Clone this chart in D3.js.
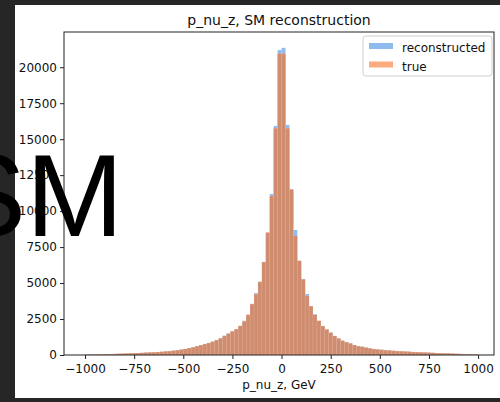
<!DOCTYPE html>
<html>
<head>
<meta charset="utf-8">
<script src="https://cdn.jsdelivr.net/npm/d3@7"></script>
<style>
  body { margin: 0; background: #262626; overflow: hidden; }
  svg text { font-family: "DejaVu Sans", sans-serif; }
</style>
</head>
<body>
<div id="chart"></div>
<script>
// histogram bins: 100 bins of 20 GeV from -1000 to 1000
const binWidth = 20;
const binStart = d3.range(-1000, 1000, binWidth);

const trueCounts = [
  22, 28, 35, 42, 50, 58, 66, 75, 84, 94,
  104, 115, 126, 138, 150, 163, 177, 192, 208, 225,
  245, 268, 295, 330, 370, 420, 475, 535, 610, 690,
  765, 840, 920, 1040, 1160, 1320, 1490, 1640, 1800, 2020,
  2330, 2820, 3540, 4230, 5100, 6450, 8520, 11050, 15760, 20960,
  20950, 15760, 11500, 8280, 6560, 5260, 4110, 3400, 2790, 2380,
  2010, 1780, 1550, 1330, 1160, 1000, 905, 810, 700, 625,
  575, 515, 465, 420, 385, 360, 335, 312, 292, 275,
  258, 242, 228, 214, 200, 188, 176, 164, 152, 141,
  130, 119, 108, 97, 86, 75, 64, 53, 42, 32
];

const recoCounts = [
  20, 27, 36, 40, 49, 60, 65, 73, 85, 92,
  102, 117, 124, 140, 148, 165, 175, 190, 210, 222,
  248, 265, 298, 327, 372, 418, 478, 530, 612, 686,
  768, 836, 925, 1036, 1165, 1350, 1485, 1645, 1795, 2030,
  2380, 2780, 3560, 4300, 5080, 6470, 8500, 11190, 15920, 21200,
  21350, 15990, 11520, 8690, 6540, 5280, 4240, 3390, 2830, 2370,
  2020, 1770, 1560, 1320, 1150, 990, 890, 800, 695, 615,
  570, 510, 460, 418, 380, 362, 330, 310, 290, 272,
  255, 240, 230, 210, 198, 190, 172, 160, 150, 138,
  128, 116, 110, 95, 84, 74, 62, 52, 40, 30
];

const xTicks = [-1000, -750, -500, -250, 0, 250, 500, 750, 1000];
const yTicks = [0, 2500, 5000, 7500, 10000, 12500, 15000, 17500, 20000];
const seriesNames = ["reconstructed", "true"];

const W = 500, H = 402;
const plot = { left: 64, right: 494, top: 32, bottom: 355 };
const colors = { reco: "#8fbcef", tru: "#fbab7f", both: "#d08c6f" };

const svg = d3.select("#chart")
              .append("svg")
              .attr("width", W)
              .attr("height", H);

// dark backdrop + white figure
svg.append("rect").attr("width", W).attr("height", H).attr("fill", "#262626");
svg.append("rect")
   .attr("x", 15).attr("y", 5)
   .attr("width", W - 15).attr("height", 393)
   .attr("fill", "#ffffff");

const x = d3.scaleLinear()
            .domain([-1107, 1081])
            .range([plot.left, plot.right]);

const y = d3.scaleLinear()
            .domain([0, 22450])
            .range([plot.bottom, plot.top]);

const bins = binStart.map((s, i) => ({
    x0: s, x1: s + binWidth, reco: recoCounts[i], tru: trueCounts[i]
}));

const barLayer = (cls, val, fill, stroke) => {
    svg.append("g")
       .selectAll("rect." + cls)
       .data(bins)
       .join("rect")
       .attr("class", cls)
       .attr("x", d => x(d.x0))
       .attr("width", d => x(d.x1) - x(d.x0))
       .attr("y", d => y(val(d)))
       .attr("height", d => y(0) - y(val(d)))
       .attr("fill", fill)
       .attr("stroke", stroke)
       .attr("stroke-width", 0.5);
};

barLayer("reco", d => d.reco, colors.reco, "none");
barLayer("tru", d => d.tru, colors.tru, "none");
barLayer("both", d => Math.min(d.reco, d.tru), colors.both, "rgba(255,255,255,0.2)");

// axes
const fmt = d3.format("d");
const xAxis = svg.append("g")
   .attr("transform", `translate(0,${plot.bottom})`)
   .call(d3.axisBottom(x).tickValues(xTicks).tickFormat(fmt).tickSize(4).tickPadding(5));

const yAxis = svg.append("g")
   .attr("transform", `translate(${plot.left},0)`)
   .call(d3.axisLeft(y).tickValues(yTicks).tickFormat(fmt).tickSize(4).tickPadding(3));

[xAxis, yAxis].forEach(g => {
    g.select(".domain").remove();
    g.selectAll("line").attr("stroke", "#222").attr("stroke-width", 1);
    g.selectAll("text").attr("fill", "#111").style("font-size", "12px")
     .style("font-family", "DejaVu Sans, sans-serif");
});

svg.append("rect")
   .attr("x", plot.left).attr("y", plot.top)
   .attr("width", plot.right - plot.left)
   .attr("height", plot.bottom - plot.top)
   .attr("fill", "none")
   .attr("stroke", "#222")
   .attr("stroke-width", 1);

// title + axis label
svg.append("text")
   .attr("x", (plot.left + plot.right) / 2)
   .attr("y", 25)
   .attr("text-anchor", "middle")
   .style("font-size", "14px")
   .attr("fill", "#111")
   .text("p_nu_z, SM reconstruction");

svg.append("text")
   .attr("x", (plot.left + plot.right) / 2)
   .attr("y", 389)
   .attr("text-anchor", "middle")
   .style("font-size", "12px")
   .attr("fill", "#111")
   .text("p_nu_z, GeV");

// legend
const legend = svg.append("g").attr("transform", "translate(363,36)");
legend.append("rect")
      .attr("width", 129).attr("height", 40).attr("rx", 3)
      .attr("fill", "#fff").attr("fill-opacity", 0.8)
      .attr("stroke", "#d0d0d0");

seriesNames.forEach((name, i) => {
    legend.append("rect")
          .attr("x", 6).attr("y", 7 + i * 18.5)
          .attr("width", 24).attr("height", 6)
          .attr("fill", i === 0 ? colors.reco : colors.tru);
    legend.append("text")
          .attr("x", 39).attr("y", 16 + i * 18.5)
          .style("font-size", "12px")
          .attr("fill", "#111")
          .text(name);
});

// big overlay label (it sits over the y tick labels in the original too)
svg.append("text")
   .attr("x", -52)
   .attr("y", 236)
   .style("font-family", "Liberation Sans, Arial, sans-serif")
   .style("font-size", "117px")
   .attr("fill", "#000")
   .text("SM");
</script>
</body>
</html>
